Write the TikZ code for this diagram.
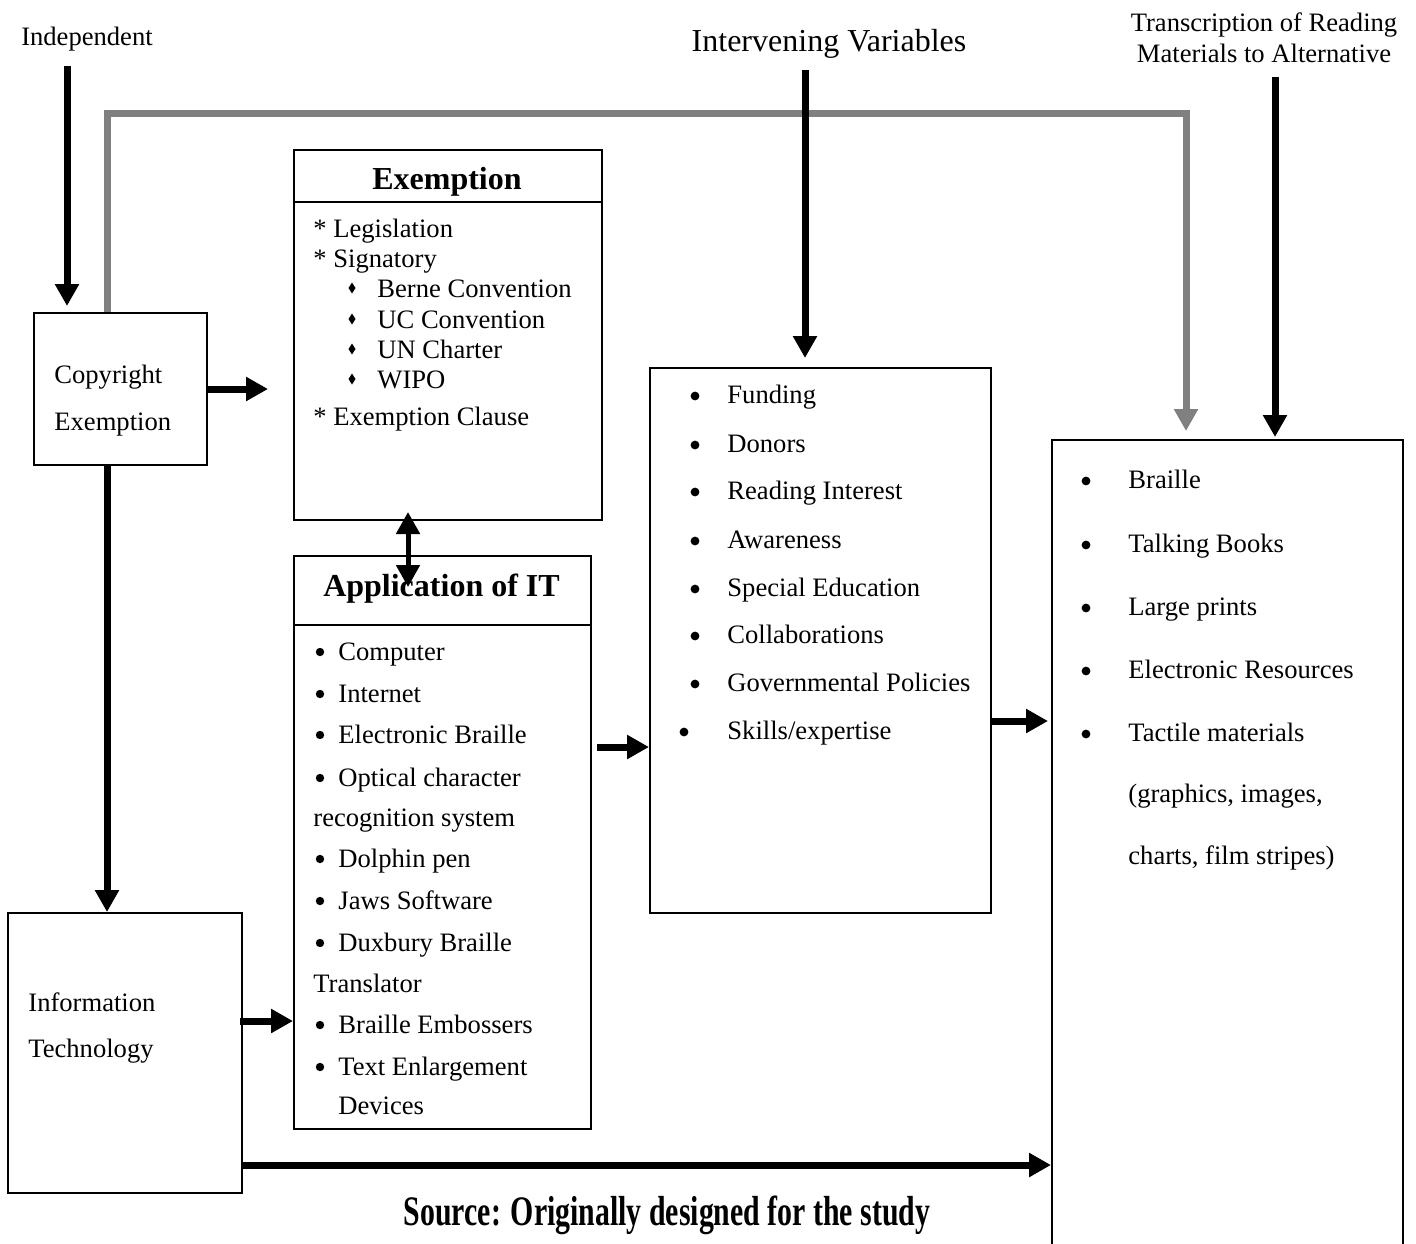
\documentclass[tikz,border=0pt]{standalone}
\usepackage{fontspec}
\setmainfont{Liberation Serif}
\usetikzlibrary{arrows.meta}
\definecolor{linegray}{RGB}{128,128,128}

\begin{document}
\begin{tikzpicture}[x=0.5pt, y=-0.5pt, font=\fontsize{13.3}{16}\selectfont, line join=miter,
	box/.style={draw, line width=1pt, inner sep=0pt, anchor=north west},
	txt/.style={anchor=base west, inner sep=0pt},
	dot/.style={anchor=base, inner sep=0pt},
	head/.style={anchor=base, inner sep=0pt, font=\fontsize{16}{19}\selectfont\bfseries},
	fat/.style={line width=3.5pt, -{Triangle[length=11pt,width=11.5pt]}},
	both/.style={line width=2.5pt, {Triangle[length=11pt,width=11.5pt]}-{Triangle[length=11pt,width=11.5pt]}},
	greyarr/.style={line width=3.5pt, draw=linegray, -{Triangle[length=11pt,width=11.5pt]}}]
	\useasboundingbox (0,0) rectangle (1416,1243);
	% labels on top
	\node[dot] (indep) at (87,45) {Independent};
	\node[dot, font=\fontsize{16}{19}\selectfont] (intvar) at (829,51) {Intervening Variables};
	\node[dot] (transc) at (1264,31) {Transcription of Reading};
	\node[dot] (transc2) at (1264,62) {Materials to Alternative};
	\coordinate (indtop) at (67,66);
	\coordinate (ivtop) at (805,70);
	\coordinate (trtop) at (1275,77);
	% boxes
	\node[box, minimum width=86.5pt, minimum height=76pt] (copyr) at (33,312) {};
	\node[box, minimum width=154pt, minimum height=185pt] (exempt) at (293,149) {};
	\node[box, minimum width=148.5pt, minimum height=286.5pt] (app) at (293,555) {};
	\node[box, minimum width=117pt, minimum height=140pt] (infotech) at (7,912) {};
	\node[box, minimum width=170.5pt, minimum height=272.5pt] (interv) at (649,367) {};
	\node[box, minimum width=175.5pt, minimum height=420pt] (altern) at (1051,439) {};
	\draw[line width=1pt] ([yshift=-26.5pt]exempt.north west) -- ([yshift=-26.5pt]exempt.north east);
	\draw[line width=1pt] ([yshift=-35pt]app.north west) -- ([yshift=-35pt]app.north east);
	% texts in the boxes
	\node[txt] at (54,383) {Copyright};
	\node[txt] at (54,430) {Exemption};
	\node[txt] at (28,1011) {Information};
	\node[txt] at (28,1057) {Technology};
	\node[head] (exhead) at (447,189) {Exemption};
	\node[txt] at (313,237) {* Legislation};
	\node[txt] at (313,267) {* Signatory};
	\node[txt] at (313,425) {* Exemption Clause};
	\foreach \y/\t in {297/Berne Convention, 328/UC Convention, 358/UN Charter, 388/WIPO}{
		\node[txt] at (377,\y) {\t};
		\fill (352,{\y-9}) +(0,-5.5) -- +(3.5,0) -- +(0,5.5) -- +(-3.5,0) -- cycle;
	}
	\node[head] (apphead) at (441.5,596) {Application of IT};
	\foreach \y/\t in {660/Computer, 702/Internet, 743/Electronic Braille, 786/Optical character, 867/Dolphin pen, 909/Jaws Software, 951/Duxbury Braille, 1033/Braille Embossers, 1075/Text Enlargement}{
		\fill (320,{\y-8}) circle[radius=2.1pt];
		\node[txt] at (338,\y) {\t};
	}
	\node[txt] at (313,826) {recognition system};
	\node[txt] at (313,992) {Translator};
	\node[txt] at (338,1114) {Devices};
	\foreach \y/\t in {403/Funding, 452/Donors, 499/Reading Interest, 548/Awareness, 596/Special Education, 643/Collaborations, 691/Governmental Policies}{
		\fill (695,{\y-7}) circle[radius=2.2pt];
		\node[txt] at (727,\y) {\t};
	}
	\fill (684,732) circle[radius=2.2pt];
	\node[txt] at (727,739) {Skills/expertise};
	\foreach \y/\t in {488/Braille, 552/Talking Books, 615/Large prints, 678/Electronic Resources, 741/Tactile materials}{
		\fill (1086,{\y-7}) circle[radius=2.2pt];
		\node[txt] at (1128,\y) {\t};
	}
	\node[txt] at (1128,802) {(graphics, images,};
	\node[txt] at (1128,864) {charts, film stripes)};
	% arrows
	\draw[fat] (indtop) -- ([yshift=3pt]indtop |- copyr.north);
	\draw[greyarr] ([xshift=37pt]copyr.north west) -- ++(0,-199) -| ([xshift=67.5pt,yshift=4pt]altern.north west);
	\draw[fat] (copyr.east) -- ([xshift=-12.5pt]copyr.east -| exempt.west);
	\draw[fat] ([xshift=37pt]copyr.south west) -- ([xshift=50pt]infotech.north west);
	\draw[both] ([xshift=57.5pt,yshift=4.5pt]exempt.south west) -- ([xshift=57.5pt,yshift=-16pt]app.north west);
	\draw[fat] ([xshift=-1.5pt,yshift=16pt]infotech.east) -- ([yshift=16pt]infotech.east -| app.west);
	\draw[fat] ([yshift=14.5pt]infotech.south east) -- ([yshift=14.5pt]infotech.south east -| altern.west);
	\draw[fat] ([xshift=2.5pt]app.east |- 0,747) -- (interv.west |- 0,747);
	\draw[fat] (ivtop) -- ([yshift=4.5pt]ivtop |- interv.north);
	\draw[fat] (interv.east |- 0,721) -- ([xshift=-1.5pt]altern.west |- 0,721);
	\draw[fat] (trtop) -- ([yshift=1pt]trtop |- altern.north);
	\node[dot, font=\fontsize{21}{24}\selectfont\bfseries] (src) at (667,1225) {\scalebox{0.71}[1]{Source: Originally designed for the study}};
\end{tikzpicture}
\end{document}
